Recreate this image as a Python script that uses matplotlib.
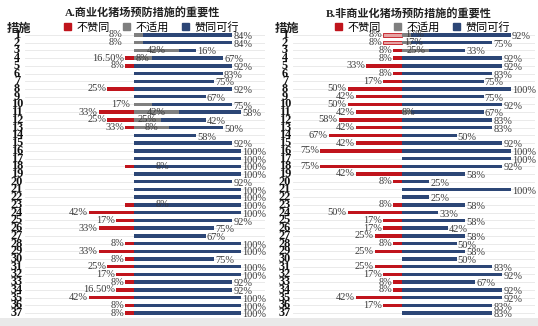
import matplotlib
matplotlib.use("Agg")
import matplotlib.pyplot as plt
from matplotlib.patches import Patch, Rectangle
from matplotlib import transforms

rows = list(range(1, 38))
row_labels = [str(r) for r in rows]

titles = ["A.商业化猪场预防措施的重要性", "B.非商业化猪场预防措施的重要性"]
series_names = ["不赞同", "不适用", "赞同可行"]
axis_title = "措施"

# ---------------- Panel A ----------------
disagree_A = [0, 0, 0, 8, 8, 0, 0, 25, 0, 0, 33, 25, 8, 0, 0, 0, 0, 8, 0, 0, 0, 0, 8,
              42, 17, 33, 0, 8, 33, 8, 25, 17, 8, 17, 42, 8, 8]
na_A = [8, 8, 42, 16.5, 0, 0, 0, 0, 0, 17, 42, 25, 33, 0, 0, 0, 0, 0, 0, 0, 0, 0, 0,
        0, 0, 0, 0, 0, 0, 0, 0, 0, 0, 0, 0, 0, 0]
agree_A = [84, 84, 16, 67, 92, 83, 75, 92, 67, 75, 58, 42, 50, 58, 92, 100, 100, 100, 100, 92,
           100, 100, 100, 100, 92, 75, 67, 100, 100, 75, 100, 100, 92, 92, 100, 100, 100]
disagree_lbl_A = ["", "", "", "16.50%", "8%", "", "", "25%", "", "", "33%", "25%", "33%", "", "",
                  "", "", "", "", "", "", "", "", "42%", "17%", "33%", "", "8%", "33%", "8%",
                  "25%", "17%", "8%", "16.50%", "42%", "8%", "8%"]
na_lbl_A = ["8%", "8%", "42%", "8%", "", "", "", "", "", "17%", "42%", "25%", "8%", "", "", "",
            "", "8%", "", "", "", "", "8%", "", "", "", "", "", "", "", "", "", "", "", "", "", ""]
agree_lbl_A = [f"{v}%" for v in agree_A]

# ---------------- Panel B ----------------
disagree_B = [17, 17, 8, 8, 33, 8, 17, 50, 42, 50, 42, 58, 42, 67, 42, 75, 0, 75, 42, 8, 0, 0, 8,
              50, 17, 17, 25, 8, 25, 0, 25, 17, 8, 8, 42, 17, 0]
na_B = [8, 8, 25, 0, 0, 0, 0, 0, 0, 0, 8, 0, 0, 0, 0, 0, 0, 0, 0, 0, 0, 0, 0,
        0, 0, 0, 0, 0, 0, 0, 0, 0, 0, 0, 0, 0, 0]
agree_B = [92, 75, 33, 92, 92, 83, 75, 100, 75, 92, 67, 83, 83, 50, 92, 100, 100, 92, 58, 25,
           100, 25, 58, 33, 58, 42, 58, 50, 58, 50, 83, 92, 67, 92, 92, 83, 83]
disagree_lbl_B = ["8%", "8%", "8%", "8%", "33%", "8%", "17%", "50%", "42%", "50%", "42%", "58%",
                  "42%", "67%", "42%", "75%", "", "75%", "42%", "8%", "", "", "8%", "50%", "17%",
                  "17%", "25%", "8%", "25%", "", "25%", "17%", "8%", "8%", "42%", "17%", ""]
na_lbl_B = ["17%", "17%", "25%", "", "", "", "", "", "", "", "8%", "", "", "", "", "", "", "", "",
            "", "", "", "", "", "", "", "", "", "", "", "", "", "", "", "", "", ""]
agree_lbl_B = [f"{v}%" for v in agree_B]

# ---------------- style ----------------
RED = "#C0141C"
LIGHT_RED = "#E6A3A3"
GREY = "#7F7F7F"
BLUE = "#2C4676"
TXT = "#3a3a3a"
NUM_FONT = "Liberation Serif"
CJK = ["Noto Sans CJK SC", "DejaVu Sans"]

W, H = 538, 326
fig = plt.figure(figsize=(W / 100, H / 100), dpi=100)
fig.patch.set_facecolor("white")
fig.add_artist(Rectangle((0, 0), 1, 8 / H, transform=fig.transFigure,
                         facecolor="#e9e9e9", edgecolor="none", zorder=0))

panels = [
    dict(dis=disagree_A, na=na_A, ag=agree_A, dl=disagree_lbl_A, nl=na_lbl_A, al=agree_lbl_A,
         left_px=25, right_px=265, center_px=134, scale=1.07, title_x=143, title_y=13,
         num_x=17, cs_x=19, leg_x=64, light_rows=set(),
         na_pos={1: (-11, "right"), 2: (-11, "right"), 10: (-4, "right"),
                 18: (27, "center"), 23: (27, "center")}),
    dict(dis=disagree_B, na=na_B, ag=agree_B, dl=disagree_lbl_B, nl=na_lbl_B, al=agree_lbl_B,
         left_px=293, right_px=535, center_px=402, scale=1.09, title_x=409, title_y=14,
         num_x=285, cs_x=287, leg_x=335, light_rows={1, 2},
         na_pos={1: (11.5, "center"), 2: (11, "center"), 3: (13, "center"), 11: (6, "center")}),
]

top_px, bot_px = 31, 317
bar_h = 0.45

for i, p in enumerate(panels):
    x0 = (p["left_px"] - p["center_px"]) / p["scale"]
    x1 = (p["right_px"] - p["center_px"]) / p["scale"]
    ax = fig.add_axes([p["left_px"] / W, 1 - bot_px / H,
                       (p["right_px"] - p["left_px"]) / W, (bot_px - top_px) / H])
    ax.set_xlim(x0, x1)
    ax.set_ylim(37.5, 0.5)
    for s in ax.spines.values():
        s.set_visible(False)
    ax.set_xticks([])
    ax.set_yticks(rows)
    ax.set_yticklabels([])
    ax.tick_params(length=0)
    ax.grid(axis="y", color="#e6e6e6", lw=0.6)
    ax.set_axisbelow(True)

    red_colors = [LIGHT_RED if r in p["light_rows"] else RED for r in rows]
    red_edges = [RED if r in p["light_rows"] else "none" for r in rows]
    ax.barh(rows, [-v for v in p["dis"]], height=bar_h, color=red_colors,
            edgecolor=red_edges, linewidth=0.6, zorder=2)
    ax.barh(rows, p["na"], height=bar_h, color=GREY, zorder=2)
    ax.barh(rows, p["ag"], left=p["na"], height=bar_h, color=BLUE, zorder=2)

    lab_kw = dict(fontsize=7.5, family=NUM_FONT, color=TXT, zorder=3)
    for r, d, n, a, dl, nl, al in zip(rows, p["dis"], p["na"], p["ag"], p["dl"], p["nl"], p["al"]):
        if dl:
            ax.annotate(dl, (-d, r), xytext=(-0.8, 0), textcoords="offset points",
                        ha="right", va="center", **lab_kw)
        if nl:
            if r in p["na_pos"]:
                xx, ha = p["na_pos"][r]
            else:
                xx, ha = n / 2, "center"
            ax.annotate(nl, (xx, r), xytext=(0, 0), textcoords="offset points",
                        ha=ha, va="center", **lab_kw)
        if al:
            ax.annotate(al, (n + a, r), xytext=(0.8, -1.2), textcoords="offset points",
                        ha="left", va="center", **lab_kw)

    # row numbers
    trans = transforms.blended_transform_factory(fig.transFigure, ax.transData)
    for r, lbl in zip(rows, row_labels):
        ax.text(p["num_x"] / W, r, lbl, transform=trans, ha="center", va="center",
                fontsize=8.8, family=NUM_FONT, fontweight="bold", color="#111111")

    fig.text(p["title_x"] / W, 1 - p["title_y"] / H, titles[i], ha="center", va="center",
             fontsize=8, fontweight="bold", family=["Liberation Serif", "Noto Sans CJK SC"],
             color="#222222")
    fig.text(p["cs_x"] / W, 1 - 28 / H, axis_title, ha="center", va="center",
             fontsize=8.8, fontweight="bold", family=CJK, color="#222222")

    handles = [Patch(color=RED), Patch(color=GREY), Patch(color=BLUE)]
    fig.legend(handles, series_names, loc="center left",
               bbox_to_anchor=(p["leg_x"] / W, 1 - 27.5 / H), ncol=3, frameon=False,
               prop=dict(family=CJK, size=8), handlelength=0.6, handleheight=0.6,
               handletextpad=0.55, columnspacing=1.15, borderpad=0, borderaxespad=0)

fig.savefig("out.png", dpi=100)
